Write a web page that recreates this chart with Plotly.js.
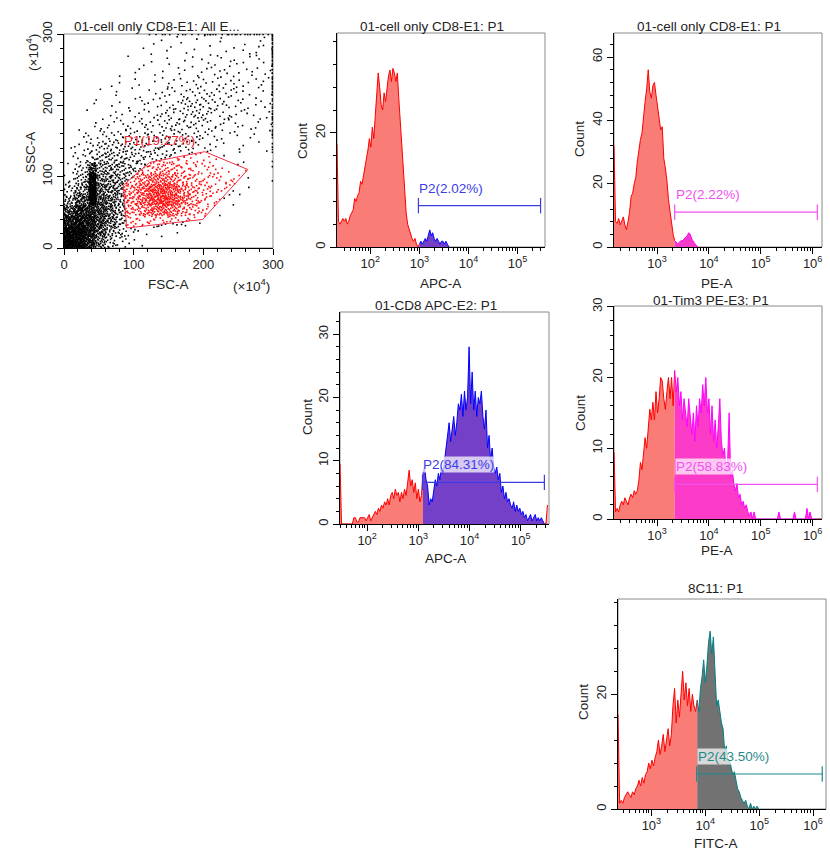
<!DOCTYPE html>
<html><head><meta charset="utf-8">
<script src="https://cdn.plot.ly/plotly-3.0.1.min.js"></script>
<style>html,body{margin:0;padding:0;background:#fff;}#chart{width:830px;height:851px;}</style>
</head><body><div id="chart"></div>
<script>
// ================= DATA =================
// Panel 1: FSC-A vs SSC-A dot plot (x10^4), event counts per 15x15 cell, rows from SSC 0 upward
const scatterDensity = [
 [110,100,60,28,12,5,2,1,0,0,0,0,0,0,0,0,0,0,0,0],
 [100,100,70,40,20,10,4,2,1,1,1,0,0,0,0,0,0,0,0,0],
 [70,85,70,45,28,14,8,6,8,8,7,5,3,1,0,0,0,0,0,0],
 [40,65,60,45,30,18,14,20,28,30,24,15,10,5,2,0,0,0,0,0],
 [18,38,30,40,30,20,18,28,42,48,40,24,14,8,4,2,1,0,0,0],
 [8,22,28,32,26,20,16,28,40,42,35,20,14,8,6,4,3,1,0,0],
 [4,12,22,25,22,18,12,18,25,26,20,14,10,7,5,4,3,1,0,0],
 [2,7,15,18,18,16,11,10,12,14,11,8,7,5,3,2,1,1,0,0],
 [1,4,8,12,13,12,9,8,7,6,6,5,4,3,1,1,1,1,0,0],
 [1,3,5,8,9,9,8,7,7,7,6,6,4,3,2,1,1,1,1,1],
 [0,1,3,4,5,6,5,5,5,6,6,6,5,4,3,2,2,1,1,1],
 [0,1,1,2,3,3,3,4,4,5,6,6,6,4,4,3,2,2,2,1],
 [0,0,1,1,2,2,2,3,3,4,5,6,7,6,4,4,3,2,2,2],
 [0,0,1,1,1,1,2,2,3,3,4,6,7,6,5,4,3,2,2,2],
 [0,0,0,1,1,1,1,1,2,3,3,4,5,4,4,4,3,2,2,2],
 [0,0,0,0,1,1,1,1,1,2,2,3,3,3,3,3,3,2,2,2],
 [0,0,0,0,0,1,1,1,1,1,1,2,2,2,3,3,2,2,2,2],
 [0,0,0,0,0,0,1,1,1,1,1,1,1,2,2,2,2,2,2,2],
 [0,0,0,0,0,0,0,1,1,1,1,1,1,1,1,1,1,2,2,2],
 [0,0,0,0,0,0,0,0,1,1,1,1,1,1,1,1,1,1,1,1]
];
const scatterCell = 15;
const scatterMax = 300;
// narrow dense streak of events (FSC ~36-46), counts per SSC row
const streakCounts = [0,0,0,0,70,85,75,25,0,0,0,0,0,0,0,0,0,0,0,0];
const streakLeft = 36, streakWidth = 10;
const rightEdgeCounts = [0,0,0,0,0,0,1,1,2,3,4,4,5,5,5,6,6,6,7,8]; // events piled at FSC max, per SSC row
const topEdgeCounts = [0,0,0,0,0,0,0,0,2,2,2,2,2,3,3,3,3,3,3,3];   // events piled at SSC max, per FSC column
const p1GateX = [85, 90, 199, 264, 202, 123];
const p1GateY = [88, 28, 40, 110, 135, 120];
const p1Label = 'P1(19.27%)';

// Histograms: counts per bin, bins start at *Start (log10 units), width binStep
const binStep = 0.03;
const apcOnlyStart = 1.32;
const apcOnlyCounts = [18,4.5,4,4.5,5,4.5,5,4,4.5,5.5,6,6.5,8.5,8,9,9.5,11.5,11,12.5,14,15,17,19,17.5,21,19,23,27,30.5,28,25,24,27,25.5,28,30,31,29,31.3,30.5,29,30.5,26,22,17,13,9,6,4,3,2,1.5,1,1.5,0.5,0,0.5,1,0.5,1,1.5,1,2,3,2,2.5,1.5,1,1.5,1,0.5,1,1,0.5,1,0.5,0];
const peOnlyStart = 2.17;
const peOnlyCounts = [32,8,7.5,9,7,8.5,9.5,7,5.5,8,11,16,17,20,22,27,31,34,36,42,46,50,56,49,47,51,52,48,44,40,37,38,28,25,21,15,11,7,4,2,1.5,1,1.5,2,2,2.5,3,3.5,4.5,4,2.5,1.5,1,0.5,0];
const cd8Start = 1.47;
const cd8Counts = [9.5,0,0,0,0,0,0,0,0,1,1,0.3,0.3,1,1,1,1,0.5,1,1.5,0.5,1,1.5,2,1.5,2.5,2,3,2.5,3.5,3,4,3,4.5,5,4,5.5,4.5,5,3.5,5,4,5.5,4.5,6.5,8.5,6,7,5,6.5,4,5.5,3.5,4.5,8,9,7,6,3,4,3.5,5.5,7,6,8,7,9,8,10,12,14,16,13,15,17,14,16,19,18,20.5,17,21,18,20,28,19,24,18,21,17,20,19,21,17,15,18,12,14,10,12,9,8,9,7,8,5,6,4,5,3.5,4,3,2.5,3.5,2,3,2,2.5,1.5,2,1,1.5,0.5,1,1.5,0.5,1,1.5,0.5,1,0.5,1,0.5,0,0,3];
const tim3Start = 2.17;
const tim3Counts = [9.5,1,1.5,1,2,2.5,2,3,2.5,2,3,3.5,3,4,3.5,4,5.5,8,7,9,11.5,10,13,15.5,14,16.5,14,18,15,17,20,19.5,17,15.5,18,20,17,20,16,21,18,20,16,18,14,17,15,13,17,14,12,15,11,16,13,17,15,19,16,20,15,17,12,16,11,14,10,13,17,11,9,10,7,8,15,6,7,5,4,5,3,3.5,2,2.5,1.5,2,1,0.5,1,0,1,0,0,0,0,0,0,0,0,0,0,0,0,0,0,0,1,0,0,0,0,0,0,0,0,0,1,0,0,0,0,0,0,0,1.5,0,1,0,0,0,0,0,0,0];
const fitcStart = 2.38;
const fitcCounts = [16.5,1,1.5,1,2,2.5,3,2.5,2,3,2.5,3.5,4,5,4,5.5,4.5,6,6.5,8,7,8.5,7.5,9,10,12,9.5,11,13,10,12,14,11,13,18,21,15,19,16,20,24,19,22,18,21,17,20,18,17,19,17,21,23,26,22,25,29,31,27,30,24,18,19,17,15,14,10,11,8,8.5,7,6,6.5,5,3.5,3,2,1.5,1,1.5,0.5,0,1,0,0.5,0,0.5,0];

// Gates [start, end] in log10 units, gate line height in counts, label height
const apcOnlyGate = [2.98, 5.47]; const apcOnlyGateY = 7.25; const apcOnlyLabelY = 10.3;
const peOnlyGate = [3.34, 6.09];  const peOnlyGateY = 11;    const peOnlyLabelY = 16.5;
const cd8Gate = [3.08, 5.46];     const cd8GateY = 6.57;     const cd8LabelY = 9.35;
const tim3Gate = [3.34, 6.09];    const tim3GateY = 4.9;     const tim3LabelY = 7.4;
const fitcGate = [3.84, 6.17];    const fitcGateY = 6.1;     const fitcLabelY = 9.2;
const gateLabels = ['P2(2.02%)', 'P2(2.22%)', 'P2(84.31%)', 'P2(58.83%)', 'P2(43.50%)'];

const panelTitles = ['01-cell only CD8-E1: All E...', '01-cell only CD8-E1: P1', '01-cell only CD8-E1: P1', '01-CD8 APC-E2: P1', '01-Tim3 PE-E3: P1', '8C11: P1'];
const xTitles = ['FSC-A', 'APC-A', 'PE-A', 'APC-A', 'PE-A', 'FITC-A'];
const yTitles = ['SSC-A', 'Count', 'Count', 'Count', 'Count', 'Count'];
const scaleNote = '(\u00d710<sup>4</sup>)';
const apcTickVals = [2, 3, 4, 5];
const apcTickText = ['10<sup>2</sup>', '10<sup>3</sup>', '10<sup>4</sup>', '10<sup>5</sup>'];
const peTickVals = [3, 4, 5, 6];
const peTickText = ['10<sup>3</sup>', '10<sup>4</sup>', '10<sup>5</sup>', '10<sup>6</sup>'];

// ================= BUILD =================
const W = 830, H = 851;
const FONT = 'Liberation Sans, Arial, Helvetica, sans-serif';
const RED_LINE = '#FF0000', RED_FILL = '#F97C76';

function halton(i, b) { let f = 1, r = 0; while (i > 0) { f /= b; r += f * (i % b); i = Math.floor(i / b); } return r; }
function inPoly(x, y, px, py) {
  let ins = false;
  for (let i = 0, j = px.length - 1; i < px.length; j = i++) {
    if (((py[i] > y) !== (py[j] > y)) && (x < (px[j] - px[i]) * (y - py[i]) / (py[j] - py[i]) + px[i])) ins = !ins;
  }
  return ins;
}

// scatter events spread within their cells
const bx = [], by = [], rx = [], ry = [];
let idx = 1;
function addPt(x, y) {
  if (inPoly(x, y, p1GateX, p1GateY)) { rx.push(x); ry.push(y); } else { bx.push(x); by.push(y); }
}
scatterDensity.forEach((row, r) => row.forEach((n, c) => {
  for (let k = 0; k < n; k++, idx++) addPt(c * scatterCell + halton(idx, 2) * scatterCell, r * scatterCell + halton(idx, 3) * scatterCell);
}));
streakCounts.forEach((n, r) => { for (let k = 0; k < n; k++, idx++) addPt(streakLeft + halton(idx, 2) * streakWidth, r * scatterCell + halton(idx, 3) * scatterCell); });
rightEdgeCounts.forEach((n, r) => { for (let k = 0; k < n; k++, idx++) addPt(scatterMax - 0.8, r * scatterCell + halton(idx, 3) * scatterCell); });
topEdgeCounts.forEach((n, c) => { for (let k = 0; k < n; k++, idx++) addPt(c * scatterCell + halton(idx, 2) * scatterCell, scatterMax - 0.8); });

const traces = [];
traces.push({type: 'scatter', mode: 'markers', x: bx, y: by, xaxis: 'x', yaxis: 'y', hoverinfo: 'skip',
  marker: {symbol: 'square', size: 1.6, color: '#000', line: {width: 0}}});
traces.push({type: 'scatter', mode: 'markers', x: rx, y: ry, xaxis: 'x', yaxis: 'y', hoverinfo: 'skip',
  marker: {symbol: 'square', size: 1.6, color: '#FF0A0A', line: {width: 0}}});
traces.push({type: 'scatter', mode: 'lines', x: p1GateX.concat([p1GateX[0]]), y: p1GateY.concat([p1GateY[0]]),
  xaxis: 'x', yaxis: 'y', line: {color: '#F0304A', width: 1}, hoverinfo: 'skip'});

function addHist(counts, start, gate, xa, ya, gLine, gFill) {
  const xs = counts.map((_, i) => start + i * binStep);
  const inG = x => x >= gate[0] && x <= gate[1];
  let runX = [xs[0]], runY = [counts[0]], runIn = inG(xs[0]);
  const flush = () => {
    traces.push({type: 'scatter', mode: 'lines', x: runX, y: runY, xaxis: xa, yaxis: ya, fill: 'tozeroy',
      fillcolor: runIn ? gFill : RED_FILL, line: {color: runIn ? gLine : RED_LINE, width: 1}, hoverinfo: 'skip'});
  };
  for (let i = 1; i < xs.length; i++) {
    const g = inG(xs[i]);
    if (g === runIn) { runX.push(xs[i]); runY.push(counts[i]); }
    else { runX.push(xs[i]); runY.push(counts[i]); flush(); runX = [xs[i]]; runY = [counts[i]]; runIn = g; }
  }
  flush();
}
function addGate(gate, gy, xa, ya, color) {
  traces.push({type: 'scatter', mode: 'lines+markers', x: gate, y: [gy, gy], xaxis: xa, yaxis: ya, hoverinfo: 'skip',
    line: {color: color, width: 1.2}, marker: {symbol: 'line-ns', size: 11, line: {color: color, width: 1.2}}});
}

addHist(apcOnlyCounts, apcOnlyStart, apcOnlyGate, 'x2', 'y2', '#0000FF', '#7440C8');
addGate(apcOnlyGate, apcOnlyGateY, 'x2', 'y2', '#3C3CE6');
addHist(peOnlyCounts, peOnlyStart, peOnlyGate, 'x3', 'y3', '#FF00FF', '#F43CC8');
addGate(peOnlyGate, peOnlyGateY, 'x3', 'y3', '#F050F0');
addHist(cd8Counts, cd8Start, cd8Gate, 'x4', 'y4', '#0000FF', '#7440C8');
addGate(cd8Gate, cd8GateY, 'x4', 'y4', '#3C3CE6');
addHist(tim3Counts, tim3Start, tim3Gate, 'x5', 'y5', '#FF00FF', '#FC3CC8');
addGate(tim3Gate, tim3GateY, 'x5', 'y5', '#F050F0');
addHist(fitcCounts, fitcStart, fitcGate, 'x6', 'y6', '#008080', '#727272');
addGate(fitcGate, fitcGateY, 'x6', 'y6', '#1F8A8A');

// ---------- layout ----------
const boxes = [ // [left, right, top, bottom] px
  [64, 273, 34, 248], [337, 545, 33, 247], [614, 822, 33, 247],
  [340, 549, 312, 524], [614, 822, 306, 519], [618, 826, 599, 809]
];
function minorLog(lo, hi) {
  const v = [];
  for (let n = 1; n <= 6; n++) for (let k = 2; k <= 9; k++) { const l = n + Math.log10(k); if (l > lo && l < hi) v.push(l); }
  return v;
}
const tf = {family: FONT, size: 13, color: '#222'};
function xAxis(i, range, vals, text, lin) {
  const b = boxes[i];
  const a = {domain: [b[0] / W, b[1] / W], range: range, anchor: 'y' + (i ? i + 1 : ''),
    showline: true, linecolor: '#000', linewidth: 1, ticks: 'outside', ticklen: 6, tickcolor: '#000', tickwidth: 1,
    showgrid: false, zeroline: false, tickfont: tf, fixedrange: true, ticklabelstandoff: -2};
  if (lin) { a.tickmode = 'linear'; a.tick0 = 0; a.dtick = 100; a.minor = {dtick: 20, ticks: 'outside', ticklen: 3, tickcolor: '#000', showgrid: false}; }
  else { a.tickmode = 'array'; a.tickvals = vals; a.ticktext = text; a.minor = {tickmode: 'array', tickvals: minorLog(range[0], range[1]), ticks: 'outside', ticklen: 3, tickcolor: '#000', showgrid: false}; }
  return a;
}
function yAxis(i, range, dtick, mdt) {
  const b = boxes[i];
  return {domain: [1 - b[3] / H, 1 - b[2] / H], range: range, anchor: 'x' + (i ? i + 1 : ''),
    showline: true, linecolor: '#000', linewidth: 1, ticks: 'outside', ticklen: 6, tickcolor: '#000',
    showgrid: false, zeroline: false, tickfont: tf, tickangle: -90, fixedrange: true,
    tickmode: 'linear', tick0: 0, dtick: dtick, minor: {dtick: mdt, ticks: 'outside', ticklen: 3, tickcolor: '#000', showgrid: false}};
}

const layout = {
  width: W, height: H, margin: {l: 0, r: 0, t: 0, b: 0}, showlegend: false,
  paper_bgcolor: '#fff', plot_bgcolor: '#fff', font: {family: FONT, color: '#222'},
  xaxis: xAxis(0, [0, 300], null, null, true), yaxis: yAxis(0, [0, 300], 100, 20),
  xaxis2: xAxis(1, [1.32, 5.56], apcTickVals, apcTickText), yaxis2: yAxis(1, [0, 37.5], 20, 4),
  xaxis3: xAxis(2, [2.17, 6.18], peTickVals, peTickText), yaxis3: yAxis(2, [0, 67.6], 20, 4),
  xaxis4: xAxis(3, [1.47, 5.55], apcTickVals, apcTickText), yaxis4: yAxis(3, [0, 33.5], 10, 2),
  xaxis5: xAxis(4, [2.17, 6.18], peTickVals, peTickText), yaxis5: yAxis(4, [0, 30.1], 10, 2),
  xaxis6: xAxis(5, [2.38, 6.24], peTickVals, peTickText), yaxis6: yAxis(5, [0, 36.6], 20, 4),
  shapes: [], annotations: []
};
for (let i = 0; i < 6; i++) {
  const s = i ? String(i + 1) : '';
  layout.shapes.push({type: 'rect', xref: 'x' + s + ' domain', yref: 'y' + s + ' domain', x0: 0, x1: 1, y0: 0, y1: 1,
    line: {color: '#8a8a8a', width: 1}, layer: 'below'});
}
const ann = (text, x, y, opts) => Object.assign({text: text, x: x / W, y: 1 - y / H, xref: 'paper', yref: 'paper',
  showarrow: false, xanchor: 'center', yanchor: 'middle', font: {family: FONT, size: 13.5, color: '#222'}}, opts || {});
const titlePos = [[157, 27], [432, 26], [709, 26], [436, 305], [711, 300], [715, 588]];
const xTitlePos = [[168, 284], [440, 283], [717, 283], [445, 558], [717, 550], [716, 843]];
const yTitlePos = [[30, 153], [303, 141], [580, 139], [307, 417], [580, 413], [583, 702]];
for (let i = 0; i < 6; i++) {
  layout.annotations.push(ann(panelTitles[i], titlePos[i][0], titlePos[i][1]));
  layout.annotations.push(ann(xTitles[i], xTitlePos[i][0], xTitlePos[i][1]));
  layout.annotations.push(ann(yTitles[i], yTitlePos[i][0], yTitlePos[i][1], {textangle: -90}));
}
layout.annotations.push(ann(scaleNote, 251, 285));
layout.annotations.push(ann(scaleNote, 32, 53, {textangle: -90}));
// gate labels
layout.annotations.push({text: p1Label, x: 83, y: 151, xref: 'x', yref: 'y', showarrow: false, xanchor: 'left', yanchor: 'middle',
  font: {family: FONT, size: 13.5, color: '#F02030'}});
const gl = (text, x, y, xa, ya, color, bg) => ({text: text, x: x, y: y, xref: xa, yref: ya, showarrow: false, xanchor: 'left', yanchor: 'middle',
  font: {family: FONT, size: 13.5, color: color}, bgcolor: bg || 'rgba(0,0,0,0)', borderpad: 0});
layout.annotations.push(gl(gateLabels[0], apcOnlyGate[0], apcOnlyLabelY, 'x2', 'y2', '#3C3CE6'));
layout.annotations.push(gl(gateLabels[1], peOnlyGate[0], peOnlyLabelY, 'x3', 'y3', '#F050F0'));
layout.annotations.push(gl(gateLabels[2], cd8Gate[0], cd8LabelY, 'x4', 'y4', '#3C3CE6', 'rgba(255,255,255,0.72)'));
layout.annotations.push(gl(gateLabels[3], tim3Gate[0], tim3LabelY, 'x5', 'y5', '#F050F0', 'rgba(255,255,255,0.72)'));
layout.annotations.push(gl(gateLabels[4], fitcGate[0], fitcLabelY, 'x6', 'y6', '#1F8A8A', 'rgba(255,255,255,0.72)'));

Plotly.newPlot('chart', traces, layout, {staticPlot: true, displayModeBar: false});
</script>
</body></html>
